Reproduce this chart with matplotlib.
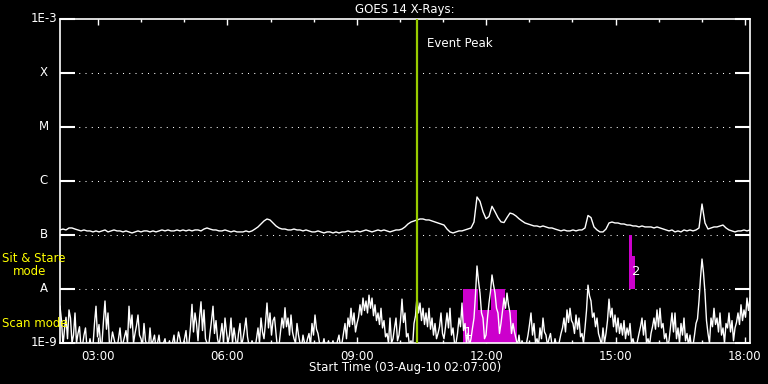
import numpy as np
import matplotlib
matplotlib.use('Agg')
import matplotlib.pyplot as plt
from matplotlib.ticker import MultipleLocator, NullLocator


def hm(s):
    h, m = s.split(':')
    return int(h) + int(m) / 60.0


# ---- data ----------------------------------------------------------
t_start = '02:07'
t_end = '18:07'
event_peak = '10:23'

# GOES 14 long channel (1-8 A), units of 1e-7 W/m^2, regular cadence
long_ch = [
    1.24, 1.29, 1.24, 1.35, 1.35, 1.29, 1.24, 1.19, 1.24, 1.19,
    1.19, 1.14, 1.19, 1.14, 1.19, 1.24, 1.14, 1.19, 1.24, 1.19,
    1.19, 1.14, 1.19, 1.14, 1.09, 1.14, 1.19, 1.14, 1.19, 1.19,
    1.14, 1.19, 1.14, 1.19, 1.24, 1.19, 1.24, 1.19, 1.19, 1.24,
    1.19, 1.24, 1.19, 1.24, 1.19, 1.24, 1.24, 1.19, 1.29, 1.35,
    1.29, 1.24, 1.24, 1.19, 1.19, 1.24, 1.19, 1.14, 1.19, 1.14,
    1.14, 1.14, 1.19, 1.14, 1.19, 1.29, 1.41, 1.60, 1.82, 1.98,
    1.90, 1.67, 1.47, 1.35, 1.29, 1.29, 1.24, 1.24, 1.29, 1.24,
    1.24, 1.19, 1.24, 1.19, 1.14, 1.14, 1.19, 1.14, 1.09, 1.14,
    1.14, 1.09, 1.14, 1.09, 1.14, 1.14, 1.19, 1.14, 1.14, 1.19,
    1.14, 1.19, 1.24, 1.19, 1.14, 1.19, 1.24, 1.19, 1.24, 1.19,
    1.14, 1.19, 1.24, 1.24, 1.29, 1.41, 1.60, 1.74, 1.82, 1.90,
    1.98, 1.98, 1.90, 1.90, 1.82, 1.74, 1.67, 1.60, 1.53, 1.29,
    1.14, 1.09, 1.14, 1.19, 1.19, 1.24, 1.29, 1.35, 1.74, 5.06,
    4.20, 2.70, 2.00, 2.20, 3.40, 2.70, 2.10, 1.75, 1.70, 2.10,
    2.55, 2.45, 2.25, 2.00, 1.82, 1.67, 1.60, 1.53, 1.47, 1.47,
    1.41, 1.47, 1.41, 1.35, 1.35, 1.29, 1.24, 1.19, 1.24, 1.19,
    1.19, 1.24, 1.19, 1.24, 1.24, 1.35, 2.30, 2.10, 1.41, 1.24,
    1.14, 1.14, 1.29, 1.67, 1.74, 1.67, 1.67, 1.60, 1.60, 1.53,
    1.53, 1.47, 1.47, 1.41, 1.47, 1.41, 1.41, 1.41, 1.35, 1.41,
    1.35, 1.29, 1.24, 1.19, 1.24, 1.14, 1.19, 1.14, 1.24, 1.19,
    1.24, 1.19, 1.24, 1.35, 3.75, 1.67, 1.29, 1.35, 1.41, 1.41,
    1.47, 1.53, 1.35, 1.24, 1.19, 1.14, 1.19, 1.19, 1.24, 1.19,
    1.24,
]

# GOES 14 short channel (0.5-4 A), units of 1e-9 W/m^2, regular cadence
short_ch = [
    4.8, 2.6, 0.9, 1.8, 3.0, 1.2, 4.1, 2.9, 1.0, 1.4, 3.6, 1.0, 1.5, 2.0, 0.8, 0.9, 1.4, 1.9, 0.8, 0.8,
    1.2, 0.8, 0.9, 2.3, 4.8, 1.3, 2.2, 1.0, 1.0, 2.6, 6.0, 1.8, 3.6, 0.9, 1.0, 1.6, 1.2, 0.9, 0.8, 1.2,
    1.9, 0.9, 1.0, 1.3, 1.7, 1.0, 4.8, 1.9, 3.3, 1.0, 1.5, 2.1, 3.3, 1.4, 1.2, 0.9, 2.3, 1.1, 0.9, 0.8,
    1.9, 0.9, 1.1, 1.4, 0.8, 1.0, 1.4, 0.8, 0.8, 1.0, 1.2, 0.8, 0.9, 1.1, 0.8, 1.0, 1.4, 0.8, 1.0, 1.6,
    1.2, 0.8, 0.9, 1.2, 1.7, 0.8, 1.0, 2.0, 5.2, 1.6, 3.6, 2.3, 1.1, 2.9, 5.8, 1.7, 4.1, 1.2, 1.0, 0.8,
    1.5, 2.6, 4.8, 1.5, 2.6, 1.2, 0.9, 1.4, 2.3, 1.0, 2.9, 1.6, 1.0, 1.4, 2.9, 1.0, 1.9, 1.2, 0.8, 1.5,
    2.3, 0.9, 1.2, 1.8, 2.9, 1.3, 0.9, 0.8, 1.1, 0.9, 0.8, 1.2, 1.9, 1.0, 2.9, 1.6, 1.2, 2.4, 5.5, 1.9,
    3.6, 1.4, 2.6, 3.0, 1.5, 0.8, 0.9, 1.6, 2.9, 1.9, 4.5, 2.0, 2.9, 1.4, 3.3, 1.6, 1.2, 1.0, 2.3, 1.4,
    1.0, 0.8, 1.4, 1.0, 0.9, 1.2, 1.5, 0.9, 2.3, 1.4, 3.3, 1.8, 1.5, 1.0, 0.8, 0.9, 1.2, 0.8, 0.9, 1.1,
    0.8, 0.9, 1.1, 0.8, 0.8, 1.1, 1.4, 0.8, 1.0, 1.5, 2.3, 1.2, 2.9, 2.0, 4.4, 2.2, 3.6, 1.6, 2.3, 3.0,
    5.1, 3.3, 6.8, 4.0, 6.0, 3.6, 7.7, 4.4, 6.8, 3.2, 5.1, 2.6, 3.6, 2.2, 4.4, 1.9, 2.6, 1.3, 1.5, 1.0,
    2.9, 1.0, 1.2, 1.9, 2.9, 1.1, 1.4, 2.6, 6.5, 2.4, 3.6, 1.3, 1.5, 0.9, 1.1, 0.8, 2.3, 3.2, 7.2, 3.6,
    5.5, 2.6, 4.4, 2.2, 3.6, 2.0, 4.4, 1.8, 2.9, 1.4, 2.3, 1.2, 1.5, 2.0, 3.6, 1.5, 1.2, 2.0, 3.6, 1.9,
    4.4, 1.4, 1.9, 1.0, 1.0, 1.5, 2.9, 2.0, 5.5, 1.7, 2.3, 1.0, 1.5, 0.9, 1.2, 1.9, 2.9, 8.0, 26.7, 14.0,
    8.4, 3.6, 2.9, 1.2, 1.4, 2.9, 5.5, 9.0, 18.2, 12.0, 8.4, 4.4, 3.6, 1.5, 2.3, 4.0, 6.8, 4.4, 8.4, 5.0,
    3.6, 1.5, 2.3, 1.6, 1.2, 0.9, 1.4, 0.8, 1.1, 0.9, 0.8, 1.0, 1.4, 2.2, 3.6, 1.4, 2.3, 1.0, 1.2, 0.9,
    1.9, 1.2, 2.9, 1.6, 1.4, 0.9, 1.2, 1.5, 0.9, 0.8, 1.2, 0.9, 0.8, 1.1, 1.5, 1.9, 2.9, 1.6, 4.1, 2.4,
    4.4, 2.6, 2.3, 1.5, 3.3, 1.8, 2.9, 1.3, 1.5, 1.0, 1.9, 4.0, 11.8, 7.5, 6.0, 3.0, 3.6, 2.0, 2.9, 1.5,
    1.2, 0.9, 1.9, 1.0, 1.5, 2.6, 6.5, 3.0, 4.4, 2.0, 3.3, 1.6, 2.9, 1.5, 2.3, 1.4, 2.6, 1.2, 1.9, 1.4,
    2.3, 1.0, 1.2, 0.9, 0.8, 1.1, 1.5, 2.0, 2.9, 1.4, 2.6, 1.0, 1.2, 0.9, 1.5, 2.0, 2.9, 1.8, 4.1, 2.0,
    4.4, 1.9, 2.3, 1.2, 1.5, 0.9, 1.1, 2.0, 3.6, 1.6, 3.6, 1.2, 1.9, 1.0, 2.3, 1.4, 2.9, 1.1, 1.5, 0.9,
    1.4, 0.8, 0.9, 1.4, 2.3, 2.8, 6.0, 16.0, 35.9, 20.0, 8.4, 2.6, 1.5, 1.0, 2.9, 2.0, 4.4, 2.2, 2.9, 1.6,
    3.6, 1.4, 1.9, 1.0, 2.3, 1.9, 3.6, 1.6, 2.6, 1.1, 1.9, 2.4, 3.6, 2.2, 5.1, 2.6, 4.1, 3.0, 6.8, 4.0,
    6.8,
]

# observing-mode bars (time edges, flux tops)
scan_edges = ['11:28', '11:49', '12:07', '12:26', '12:43']
scan_tops = [1e-8, 4.1e-9, 1e-8, 4.1e-9]
sit_edges = ['15:19', '15:23', '15:27']
sit_tops = [1e-7, 4.1e-8]

levels = [1e-9, 1e-8, 1e-7, 1e-6, 1e-5, 1e-4, 1e-3]
level_labels = ['1E-9', 'A', 'B', 'C', 'M', 'X', '1E-3']
hour_ticks = [3, 6, 9, 12, 15, 18]
hour_labels = ['03:00', '06:00', '09:00', '12:00', '15:00', '18:00']

# ---- plot ----------------------------------------------------------
fs = 8.5
fig = plt.figure(figsize=(7.68, 3.84), dpi=100, facecolor='black')
ax = fig.add_axes([60/768, 1-343/384, 690/768, 324/384])
ax.set_facecolor('black')

t_long = np.linspace(hm(t_start), hm(t_end), len(long_ch))
t_short = np.linspace(hm(t_start), hm(t_end), len(short_ch))

ax.set_yscale('log')
ax.set_ylim(1e-9, 1e-3)
ax.set_xlim(hm(t_start), hm(t_end))

# mode bars
se = [hm(s) for s in scan_edges]
for i in range(len(scan_tops)):
    ax.bar(se[i], scan_tops[i] - 1e-9, bottom=1e-9, width=se[i+1]-se[i],
           align='edge', color='#cc00cc', lw=0, zorder=2)
ss = [hm(s) for s in sit_edges]
for i in range(len(sit_tops)):
    ax.bar(ss[i], sit_tops[i] - 1e-8, bottom=1e-8, width=ss[i+1]-ss[i],
           align='edge', color='#cc00cc', lw=0, zorder=2)

for lv in levels[1:-1]:
    ax.axhline(lv, color='white', lw=0.75, dashes=(1, 5), zorder=1)

ax.plot(t_long, np.array(long_ch) * 1e-7, color='white', lw=1.0, zorder=3)
ax.plot(t_short, np.array(short_ch) * 1e-9, color='white', lw=1.0, zorder=3)

ax.axvline(hm(event_peak), color='#99cc00', lw=1.6, zorder=4)
ax.text(hm(event_peak) + 0.25, 10**-3.45, 'Event Peak', color='white',
        fontsize=fs, va='center', ha='left')

ax.text(11.58, 1.55e-9, '1', color='white', fontsize=fs + 1, ha='center', va='center', zorder=5)
ax.text(15.47, 2.07e-8, '2', color='white', fontsize=fs + 1, ha='center', va='center', zorder=5)

# axes look
for sp in ax.spines.values():
    sp.set_color('white')
    sp.set_linewidth(1.2)

ax.set_yticks(levels)
ax.set_yticklabels([])
ax.yaxis.set_minor_locator(NullLocator())
ax.tick_params(axis='y', which='major', direction='in', length=10.8, width=1.5,
               color='white', left=True, right=True)
ax.set_xticks(hour_ticks)
ax.set_xticklabels(hour_labels, color='white', fontsize=fs)
ax.xaxis.set_minor_locator(MultipleLocator(1))
ax.tick_params(axis='x', which='major', direction='in', length=4.5, width=1,
               color='white', top=True, bottom=True, pad=5)
ax.tick_params(axis='x', which='minor', direction='in', length=2.2, width=1,
               color='white', top=True, bottom=True)

ytr = ax.get_yaxis_transform()
for lv, lab in zip(levels, level_labels):
    ax.text(-16/690, lv, lab, transform=ytr, color='white', fontsize=fs,
            ha='center', va='center')

ax.text(-58/690, 3.6e-8, 'Sit & Stare', transform=ytr, color='yellow',
        fontsize=fs, ha='left', va='center')
ax.text(-47/690, 2.15e-8, 'mode', transform=ytr, color='yellow',
        fontsize=fs, ha='left', va='center')
ax.text(-58/690, 2.25e-9, 'Scan mode', transform=ytr, color='yellow',
        fontsize=fs, ha='left', va='center')

fig.text(405/768, 1-9/384, 'GOES 14 X-Rays:', color='white', fontsize=fs,
         ha='center', va='center')
fig.text(405/768, 1-368/384, 'Start Time (03-Aug-10 02:07:00)', color='white',
         fontsize=fs, ha='center', va='center')

fig.savefig('out.png', dpi=100, facecolor='black')
